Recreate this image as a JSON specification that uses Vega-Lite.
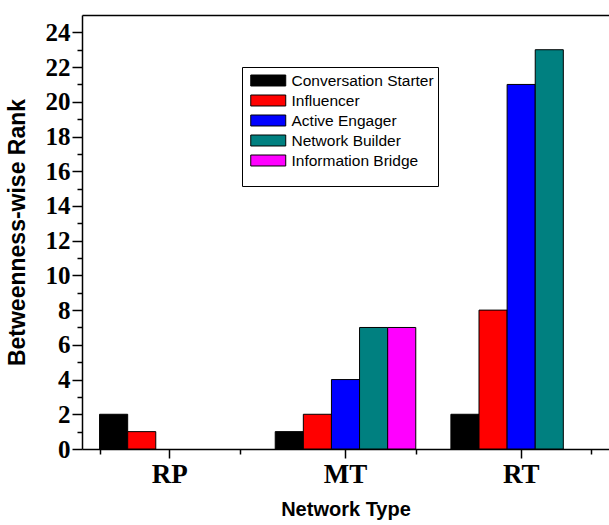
{
  "$schema": "https://vega.github.io/schema/vega-lite/v6.json",
  "width": 527,
  "height": 434,
  "autosize": {"type": "none"},
  "padding": {"left": 82, "top": 15, "right": 0, "bottom": 76},
  "background": "white",
  "config": {
    "view": {"stroke": null},
    "axis": {"labelFont": "Liberation Serif", "labelFontWeight": "bold"},
    "axisLeft": {"labelFont": "Liberation Serif", "labelFontWeight": "bold"}
  },
  "data": {
    "values": [
      {"network": "RP", "role": "Conversation Starter", "rank": 2},
      {"network": "RP", "role": "Influencer", "rank": 1},
      {"network": "MT", "role": "Conversation Starter", "rank": 1},
      {"network": "MT", "role": "Influencer", "rank": 2},
      {"network": "MT", "role": "Active Engager", "rank": 4},
      {"network": "MT", "role": "Network Builder", "rank": 7},
      {"network": "MT", "role": "Information Bridge", "rank": 7},
      {"network": "RT", "role": "Conversation Starter", "rank": 2},
      {"network": "RT", "role": "Influencer", "rank": 8},
      {"network": "RT", "role": "Active Engager", "rank": 21},
      {"network": "RT", "role": "Network Builder", "rank": 23}
    ]
  },
  "layer": [
    {
      "mark": {"type": "bar", "stroke": "black", "strokeWidth": 1},
      "encoding": {
        "x": {
          "field": "network",
          "type": "nominal",
          "sort": ["RP", "MT", "RT"],
          "scale": {"paddingInner": 0.2, "paddingOuter": 0.1},
          "axis": {
            "orient": "bottom",
            "title": "Network Type",
            "labelAngle": 0,
            "labelFont": "Liberation Serif",
            "labelFontWeight": "bold",
            "labelFontSize": 27,
            "labelColor": "black",
            "labelPadding": 3,
            "tickSize": 9,
            "tickWidth": 1.5,
            "tickColor": "black",
            "domainColor": "black",
            "domainWidth": 1.5,
            "titleFont": "Liberation Sans",
            "titleFontSize": 20,
            "titleFontWeight": "bold",
            "titleColor": "black",
            "titlePadding": 12
          }
        },
        "xOffset": {
          "field": "role",
          "type": "nominal",
          "scale": {
            "domain": ["Conversation Starter", "Influencer", "Active Engager", "Network Builder", "Information Bridge"],
            "paddingInner": 0,
            "paddingOuter": 0
          }
        },
        "y": {
          "field": "rank",
          "type": "quantitative",
          "scale": {"domain": [0, 25], "nice": false},
          "axis": {
            "orient": "left",
            "title": "Betweenness-wise Rank",
            "grid": false,
            "values": [0, 2, 4, 6, 8, 10, 12, 14, 16, 18, 20, 22, 24],
            "labelOverlap": false,
            "labelFont": "Liberation Serif",
            "labelFontWeight": "bold",
            "labelFontSize": 25,
            "labelColor": "black",
            "labelPadding": 2,
            "tickSize": 10,
            "tickWidth": 1.5,
            "tickColor": "black",
            "domainColor": "black",
            "domainWidth": 1.5,
            "titleFont": "Liberation Sans",
            "titleFontSize": 23,
            "titleFontWeight": "bold",
            "titleColor": "black",
            "titlePadding": 16
          }
        },
        "color": {
          "field": "role",
          "type": "nominal",
          "scale": {
            "domain": ["Conversation Starter", "Influencer", "Active Engager", "Network Builder", "Information Bridge"],
            "range": ["#000000", "#ff0000", "#0000ff", "#008080", "#ff00ff"]
          },
          "legend": {
            "orient": "none",
            "legendX": 160,
            "legendY": 52,
            "title": " ",
            "titleOrient": "bottom",
            "titleFontSize": 9,
            "titlePadding": 4,
            "strokeColor": "black",
            "padding": 4,
            "symbolType": "M-2,-0.628H2V0.628H-2Z",
            "symbolSize": 306,
            "symbolOffset": 12.75,
            "symbolStrokeColor": "black",
            "symbolStrokeWidth": 1,
            "labelFont": "Liberation Sans",
            "labelFontSize": 15.5,
            "labelColor": "black",
            "labelOffset": 13.75,
            "rowPadding": 2
          }
        }
      }
    },
    {
      "mark": {"type": "bar", "opacity": 0},
      "encoding": {
        "x": {
          "field": "network",
          "type": "nominal",
          "sort": ["RP", "MT", "RT"],
          "axis": {
            "orient": "bottom",
            "tickBand": "extent",
            "labels": false,
            "domain": false,
            "title": null,
            "tickSize": 5,
            "tickWidth": 1.5,
            "tickColor": "black"
          }
        },
        "y": {
          "field": "rank",
          "type": "quantitative",
          "axis": {
            "orient": "left",
            "grid": false,
            "values": [1, 3, 5, 7, 9, 11, 13, 15, 17, 19, 21, 23],
            "labels": false,
            "domain": false,
            "title": null,
            "tickSize": 5,
            "tickWidth": 1.5,
            "tickColor": "black"
          }
        }
      }
    },
    {
      "mark": {"type": "bar", "opacity": 0},
      "encoding": {
        "x": {
          "field": "network",
          "type": "nominal",
          "sort": ["RP", "MT", "RT"],
          "axis": {
            "orient": "top",
            "ticks": false,
            "labels": false,
            "title": null,
            "domainColor": "black",
            "domainWidth": 1.5
          }
        }
      }
    }
  ],
  "resolve": {"axis": {"x": "independent", "y": "independent"}}
}
